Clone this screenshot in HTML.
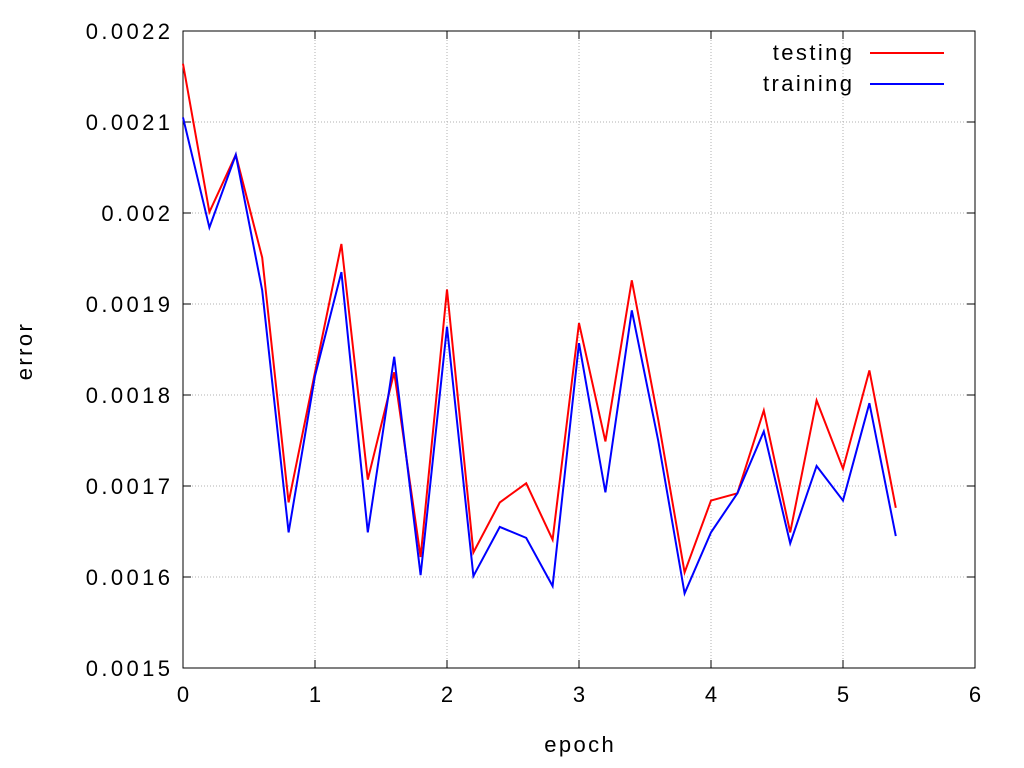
<!DOCTYPE html>
<html><head><meta charset="utf-8"><style>
body{margin:0;background:#fff;}
svg{display:block;font-family:"Liberation Sans",sans-serif;}
.num{letter-spacing:3.4px;}
.word{letter-spacing:2.4px;}
</style></head><body>
<svg id="chart" width="1024" height="768" xmlns="http://www.w3.org/2000/svg"></svg>
<script>
const epochs=[0,0.2,0.4,0.6,0.8,1.0,1.2,1.4,1.6,1.8,2.0,2.2,2.4,2.6,2.8,3.0,3.2,3.4,3.6,3.8,4.0,4.2,4.4,4.6,4.8,5.0,5.2,5.4];
const testing=[0.002164,0.002001,0.002064,0.001951,0.001682,0.001825,0.001966,0.001707,0.001825,0.001622,0.001916,0.001627,0.001682,0.001703,0.001641,0.001879,0.001749,0.001926,0.001773,0.001605,0.001684,0.001692,0.001783,0.001649,0.001794,0.001719,0.001827,0.001676];
const training=[0.002105,0.001984,0.002064,0.001915,0.001649,0.001821,0.001935,0.001649,0.001842,0.001602,0.001875,0.001601,0.001655,0.001643,0.001590,0.001857,0.001693,0.001893,0.00175,0.001582,0.001649,0.001692,0.00176,0.001637,0.001722,0.001684,0.001791,0.001645];
const xTicks=[0,1,2,3,4,5,6];
const yTicks=[0.0015,0.0016,0.0017,0.0018,0.0019,0.002,0.0021,0.0022];
const yTickLabels=["0.0015","0.0016","0.0017","0.0018","0.0019","0.002","0.0021","0.0022"];
const L=183,R=975,T=31,B=668;
const xs=v=>L+(v-0)/6*(R-L);
const ys=v=>B-(v-0.0015)/0.0007*(B-T);
const svg=document.getElementById('chart');
const NS='http://www.w3.org/2000/svg';
function mk(tag,attrs,parent){const e=document.createElementNS(NS,tag);for(const k in attrs)e.setAttribute(k,attrs[k]);(parent||svg).appendChild(e);return e;}
xTicks.forEach((t,i)=>{
  if(i>0&&i<xTicks.length-1){const g=mk('line',{x1:xs(t),x2:xs(t),y1:T,y2:B,stroke:'#b0b0b0','stroke-dasharray':'1,2','stroke-width':1});
  
  }
  const tk=mk('line',{x1:xs(t),x2:xs(t),y1:B,y2:B-8,stroke:'#000'});
  
  
  const tk2=mk('line',{x1:xs(t),x2:xs(t),y1:T,y2:T+8,stroke:'#000'});
  
  
  const tx=mk('text',{x:xs(t)+1.7,y:B+34,'text-anchor':'middle','font-size':22,'class':'num'});
  tx.textContent=t;
  
  
});
yTicks.forEach((t,i)=>{
  if(i>0&&i<yTicks.length-1){const g=mk('line',{x1:L,x2:R,y1:ys(t),y2:ys(t),stroke:'#b0b0b0','stroke-dasharray':'1,2','stroke-width':1});
  
  }
  const tk=mk('line',{x1:L,x2:L+8,y1:ys(t),y2:ys(t),stroke:'#000'});
  
  
  const tk2=mk('line',{x1:R,x2:R-8,y1:ys(t),y2:ys(t),stroke:'#000'});
  
  
  const tx=mk('text',{x:L-13+3.4,y:ys(t)+8,'text-anchor':'end','font-size':22,'class':'num'});
  tx.textContent=yTickLabels[i];
  
  
});
const frame=mk('rect',{x:L,y:T,width:R-L,height:B-T,fill:'none',stroke:'#000'});


const xt=mk('text',{x:579+1.2,y:752,'text-anchor':'middle','font-size':22,'class':'word'});xt.textContent='epoch';


const yt=mk('text',{x:0,y:0,'text-anchor':'middle','font-size':22,'class':'word',transform:'translate(32,351) rotate(-90)'});yt.textContent='error';


function series(vals,color,name){
  const p=mk('polyline',{points:vals.map((v,i)=>xs(epochs[i])+','+ys(v)).join(' '),fill:'none',stroke:color,'stroke-width':2});
  
  
}
series(testing,'#ff0000','testing-line');
series(training,'#0000ff','training-line');
[['testing','#ff0000',53],['training','#0000ff',84]].forEach(([lab,c,y])=>{
  const t=mk('text',{x:852+2.4,y:y+7,'text-anchor':'end','font-size':22,'class':'word'});t.textContent=lab;
  
  
  const l=mk('line',{x1:870,x2:944,y1:y,y2:y,stroke:c,'stroke-width':2});
  
  
});
</script>
</body></html>
